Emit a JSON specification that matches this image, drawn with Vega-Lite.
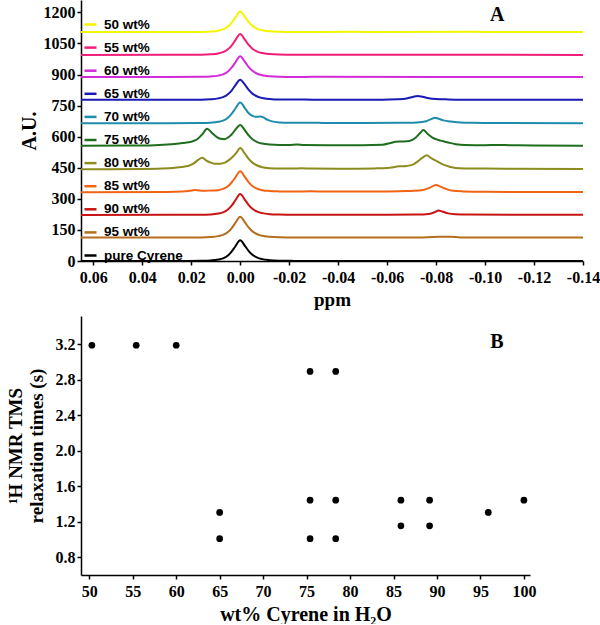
{
"$schema":"https://vega.github.io/schema/vega-lite/v6.json",
"background":"white",
"padding":{"left":6,"top":0,"right":0,"bottom":0},
"spacing":55,
"bounds":"flush",
"config":{"view":{"stroke":null},
 "axis":{"grid":false,"labelOverlap":false,"labelFlush":false,"domainColor":"black","domainWidth":1.5,"tickColor":"black","tickWidth":1.5,"tickSize":4,"labelFont":"Liberation Serif","labelFontWeight":"bold","labelFontSize":16,"labelColor":"black","titleFont":"Liberation Serif","titleFontWeight":"bold","titleColor":"black"}},
"datasets":{
"spectra":[
{"s":"pure Cyrene","ppm":0.065,"au":0},{"s":"pure Cyrene","ppm":0.03,"au":0},{"s":"pure Cyrene","ppm":0.022,"au":0.3},{"s":"pure Cyrene","ppm":0.016,"au":1},{"s":"pure Cyrene","ppm":0.012,"au":3},{"s":"pure Cyrene","ppm":0.009,"au":7},{"s":"pure Cyrene","ppm":0.007,"au":13},{"s":"pure Cyrene","ppm":0.005,"au":27},{"s":"pure Cyrene","ppm":0.0035,"au":45},{"s":"pure Cyrene","ppm":0.002,"au":70},{"s":"pure Cyrene","ppm":0,"au":100},{"s":"pure Cyrene","ppm":-0.002,"au":72},{"s":"pure Cyrene","ppm":-0.0035,"au":48},{"s":"pure Cyrene","ppm":-0.005,"au":30},{"s":"pure Cyrene","ppm":-0.007,"au":16},{"s":"pure Cyrene","ppm":-0.009,"au":9},{"s":"pure Cyrene","ppm":-0.012,"au":4},{"s":"pure Cyrene","ppm":-0.016,"au":1.5},{"s":"pure Cyrene","ppm":-0.022,"au":0.5},{"s":"pure Cyrene","ppm":-0.03,"au":0},{"s":"pure Cyrene","ppm":-0.14,"au":0},
{"s":"95 wt%","ppm":0.065,"au":113},{"s":"95 wt%","ppm":0.03,"au":113.5},{"s":"95 wt%","ppm":0.016,"au":114},{"s":"95 wt%","ppm":0.012,"au":116},{"s":"95 wt%","ppm":0.009,"au":120},{"s":"95 wt%","ppm":0.007,"au":126},{"s":"95 wt%","ppm":0.005,"au":140},{"s":"95 wt%","ppm":0.0035,"au":158},{"s":"95 wt%","ppm":0.002,"au":183},{"s":"95 wt%","ppm":0,"au":214},{"s":"95 wt%","ppm":-0.002,"au":185},{"s":"95 wt%","ppm":-0.0035,"au":161},{"s":"95 wt%","ppm":-0.005,"au":143},{"s":"95 wt%","ppm":-0.007,"au":129},{"s":"95 wt%","ppm":-0.009,"au":122},{"s":"95 wt%","ppm":-0.012,"au":117},{"s":"95 wt%","ppm":-0.016,"au":114.5},{"s":"95 wt%","ppm":-0.022,"au":113.5},{"s":"95 wt%","ppm":-0.03,"au":113.5},{"s":"95 wt%","ppm":-0.06,"au":113.5},{"s":"95 wt%","ppm":-0.075,"au":114},{"s":"95 wt%","ppm":-0.082,"au":117},{"s":"95 wt%","ppm":-0.086,"au":117},{"s":"95 wt%","ppm":-0.09,"au":114},{"s":"95 wt%","ppm":-0.14,"au":113.5},
{"s":"90 wt%","ppm":0.065,"au":222},{"s":"90 wt%","ppm":0.03,"au":223},{"s":"90 wt%","ppm":0.016,"au":223.5},{"s":"90 wt%","ppm":0.012,"au":225},{"s":"90 wt%","ppm":0.009,"au":229},{"s":"90 wt%","ppm":0.007,"au":235},{"s":"90 wt%","ppm":0.005,"au":249},{"s":"90 wt%","ppm":0.0035,"au":267},{"s":"90 wt%","ppm":0.002,"au":292},{"s":"90 wt%","ppm":0,"au":323},{"s":"90 wt%","ppm":-0.002,"au":294},{"s":"90 wt%","ppm":-0.0035,"au":270},{"s":"90 wt%","ppm":-0.005,"au":252},{"s":"90 wt%","ppm":-0.007,"au":238},{"s":"90 wt%","ppm":-0.009,"au":231},{"s":"90 wt%","ppm":-0.012,"au":226},{"s":"90 wt%","ppm":-0.016,"au":224},{"s":"90 wt%","ppm":-0.022,"au":223},{"s":"90 wt%","ppm":-0.03,"au":223},{"s":"90 wt%","ppm":-0.06,"au":223},{"s":"90 wt%","ppm":-0.072,"au":224},{"s":"90 wt%","ppm":-0.077,"au":227},{"s":"90 wt%","ppm":-0.0795,"au":236},{"s":"90 wt%","ppm":-0.081,"au":244},{"s":"90 wt%","ppm":-0.0825,"au":239},{"s":"90 wt%","ppm":-0.085,"au":230},{"s":"90 wt%","ppm":-0.088,"au":226},{"s":"90 wt%","ppm":-0.093,"au":224},{"s":"90 wt%","ppm":-0.14,"au":223},
{"s":"85 wt%","ppm":0.065,"au":332},{"s":"85 wt%","ppm":0.03,"au":333},{"s":"85 wt%","ppm":0.024,"au":335},{"s":"85 wt%","ppm":0.0205,"au":339},{"s":"85 wt%","ppm":0.0185,"au":343},{"s":"85 wt%","ppm":0.0165,"au":340},{"s":"85 wt%","ppm":0.0145,"au":339},{"s":"85 wt%","ppm":0.012,"au":340},{"s":"85 wt%","ppm":0.009,"au":342},{"s":"85 wt%","ppm":0.007,"au":348},{"s":"85 wt%","ppm":0.005,"au":361},{"s":"85 wt%","ppm":0.0035,"au":379},{"s":"85 wt%","ppm":0.002,"au":403},{"s":"85 wt%","ppm":0,"au":433},{"s":"85 wt%","ppm":-0.002,"au":404},{"s":"85 wt%","ppm":-0.0035,"au":380},{"s":"85 wt%","ppm":-0.005,"au":362},{"s":"85 wt%","ppm":-0.007,"au":349},{"s":"85 wt%","ppm":-0.009,"au":342},{"s":"85 wt%","ppm":-0.012,"au":338},{"s":"85 wt%","ppm":-0.016,"au":336},{"s":"85 wt%","ppm":-0.022,"au":335},{"s":"85 wt%","ppm":-0.029,"au":337},{"s":"85 wt%","ppm":-0.035,"au":335},{"s":"85 wt%","ppm":-0.05,"au":335},{"s":"85 wt%","ppm":-0.06,"au":336},{"s":"85 wt%","ppm":-0.068,"au":338},{"s":"85 wt%","ppm":-0.074,"au":341},{"s":"85 wt%","ppm":-0.0775,"au":354},{"s":"85 wt%","ppm":-0.0799,"au":367},{"s":"85 wt%","ppm":-0.082,"au":358},{"s":"85 wt%","ppm":-0.0845,"au":346},{"s":"85 wt%","ppm":-0.087,"au":339},{"s":"85 wt%","ppm":-0.091,"au":336},{"s":"85 wt%","ppm":-0.1,"au":334},{"s":"85 wt%","ppm":-0.14,"au":333},
{"s":"80 wt%","ppm":0.065,"au":443},{"s":"80 wt%","ppm":0.04,"au":444},{"s":"80 wt%","ppm":0.032,"au":446},{"s":"80 wt%","ppm":0.0275,"au":449},{"s":"80 wt%","ppm":0.024,"au":454},{"s":"80 wt%","ppm":0.021,"au":460},{"s":"80 wt%","ppm":0.019,"au":471},{"s":"80 wt%","ppm":0.0172,"au":488},{"s":"80 wt%","ppm":0.0155,"au":499},{"s":"80 wt%","ppm":0.0138,"au":485},{"s":"80 wt%","ppm":0.012,"au":475},{"s":"80 wt%","ppm":0.0105,"au":470},{"s":"80 wt%","ppm":0.009,"au":469},{"s":"80 wt%","ppm":0.0075,"au":471},{"s":"80 wt%","ppm":0.006,"au":476},{"s":"80 wt%","ppm":0.0045,"au":488},{"s":"80 wt%","ppm":0.003,"au":503},{"s":"80 wt%","ppm":0.0015,"au":523},{"s":"80 wt%","ppm":0,"au":545},{"s":"80 wt%","ppm":-0.002,"au":517},{"s":"80 wt%","ppm":-0.0035,"au":493},{"s":"80 wt%","ppm":-0.005,"au":475},{"s":"80 wt%","ppm":-0.007,"au":461},{"s":"80 wt%","ppm":-0.009,"au":453},{"s":"80 wt%","ppm":-0.012,"au":448},{"s":"80 wt%","ppm":-0.016,"au":446},{"s":"80 wt%","ppm":-0.021,"au":446},{"s":"80 wt%","ppm":-0.025,"au":448},{"s":"80 wt%","ppm":-0.029,"au":446},{"s":"80 wt%","ppm":-0.04,"au":445},{"s":"80 wt%","ppm":-0.055,"au":447},{"s":"80 wt%","ppm":-0.06,"au":449},{"s":"80 wt%","ppm":-0.065,"au":457},{"s":"80 wt%","ppm":-0.068,"au":459},{"s":"80 wt%","ppm":-0.0705,"au":465},{"s":"80 wt%","ppm":-0.0725,"au":481},{"s":"80 wt%","ppm":-0.0745,"au":499},{"s":"80 wt%","ppm":-0.0762,"au":510},{"s":"80 wt%","ppm":-0.078,"au":497},{"s":"80 wt%","ppm":-0.0805,"au":481},{"s":"80 wt%","ppm":-0.083,"au":465},{"s":"80 wt%","ppm":-0.0855,"au":455},{"s":"80 wt%","ppm":-0.088,"au":449},{"s":"80 wt%","ppm":-0.092,"au":447},{"s":"80 wt%","ppm":-0.1,"au":446},{"s":"80 wt%","ppm":-0.11,"au":445},{"s":"80 wt%","ppm":-0.14,"au":444},
{"s":"75 wt%","ppm":0.065,"au":556},{"s":"75 wt%","ppm":0.045,"au":557},{"s":"75 wt%","ppm":0.035,"au":559},{"s":"75 wt%","ppm":0.028,"au":564},{"s":"75 wt%","ppm":0.0235,"au":570},{"s":"75 wt%","ppm":0.02,"au":576},{"s":"75 wt%","ppm":0.0175,"au":588},{"s":"75 wt%","ppm":0.0155,"au":611},{"s":"75 wt%","ppm":0.0135,"au":639},{"s":"75 wt%","ppm":0.0115,"au":618},{"s":"75 wt%","ppm":0.0095,"au":598},{"s":"75 wt%","ppm":0.008,"au":590},{"s":"75 wt%","ppm":0.0065,"au":588},{"s":"75 wt%","ppm":0.005,"au":596},{"s":"75 wt%","ppm":0.0035,"au":611},{"s":"75 wt%","ppm":0.002,"au":633},{"s":"75 wt%","ppm":0,"au":656},{"s":"75 wt%","ppm":-0.002,"au":630},{"s":"75 wt%","ppm":-0.0035,"au":606},{"s":"75 wt%","ppm":-0.005,"au":588},{"s":"75 wt%","ppm":-0.007,"au":574},{"s":"75 wt%","ppm":-0.009,"au":567},{"s":"75 wt%","ppm":-0.012,"au":562},{"s":"75 wt%","ppm":-0.016,"au":560},{"s":"75 wt%","ppm":-0.02,"au":560},{"s":"75 wt%","ppm":-0.0232,"au":563},{"s":"75 wt%","ppm":-0.026,"au":560},{"s":"75 wt%","ppm":-0.035,"au":559},{"s":"75 wt%","ppm":-0.05,"au":559},{"s":"75 wt%","ppm":-0.058,"au":561},{"s":"75 wt%","ppm":-0.0615,"au":570},{"s":"75 wt%","ppm":-0.0635,"au":576},{"s":"75 wt%","ppm":-0.066,"au":577},{"s":"75 wt%","ppm":-0.069,"au":579},{"s":"75 wt%","ppm":-0.0715,"au":594},{"s":"75 wt%","ppm":-0.0735,"au":618},{"s":"75 wt%","ppm":-0.0748,"au":632},{"s":"75 wt%","ppm":-0.0765,"au":614},{"s":"75 wt%","ppm":-0.0785,"au":596},{"s":"75 wt%","ppm":-0.081,"au":584},{"s":"75 wt%","ppm":-0.083,"au":578},{"s":"75 wt%","ppm":-0.085,"au":572},{"s":"75 wt%","ppm":-0.088,"au":564},{"s":"75 wt%","ppm":-0.092,"au":560},{"s":"75 wt%","ppm":-0.1,"au":559},{"s":"75 wt%","ppm":-0.105,"au":560},{"s":"75 wt%","ppm":-0.11,"au":559},{"s":"75 wt%","ppm":-0.12,"au":557.5},{"s":"75 wt%","ppm":-0.14,"au":556.5},
{"s":"70 wt%","ppm":0.065,"au":665},{"s":"70 wt%","ppm":0.03,"au":665.5},{"s":"70 wt%","ppm":0.016,"au":666},{"s":"70 wt%","ppm":0.012,"au":668},{"s":"70 wt%","ppm":0.009,"au":672},{"s":"70 wt%","ppm":0.007,"au":678},{"s":"70 wt%","ppm":0.005,"au":692},{"s":"70 wt%","ppm":0.0035,"au":710},{"s":"70 wt%","ppm":0.002,"au":735},{"s":"70 wt%","ppm":0,"au":765},{"s":"70 wt%","ppm":-0.002,"au":737},{"s":"70 wt%","ppm":-0.0035,"au":713},{"s":"70 wt%","ppm":-0.005,"au":701},{"s":"70 wt%","ppm":-0.0065,"au":696},{"s":"70 wt%","ppm":-0.008,"au":697},{"s":"70 wt%","ppm":-0.0095,"au":693},{"s":"70 wt%","ppm":-0.011,"au":682},{"s":"70 wt%","ppm":-0.013,"au":674},{"s":"70 wt%","ppm":-0.016,"au":669},{"s":"70 wt%","ppm":-0.02,"au":667},{"s":"70 wt%","ppm":-0.029,"au":668},{"s":"70 wt%","ppm":-0.035,"au":666},{"s":"70 wt%","ppm":-0.05,"au":666},{"s":"70 wt%","ppm":-0.065,"au":667},{"s":"70 wt%","ppm":-0.072,"au":669},{"s":"70 wt%","ppm":-0.076,"au":675},{"s":"70 wt%","ppm":-0.078,"au":685},{"s":"70 wt%","ppm":-0.0795,"au":692},{"s":"70 wt%","ppm":-0.081,"au":687},{"s":"70 wt%","ppm":-0.083,"au":679},{"s":"70 wt%","ppm":-0.086,"au":673},{"s":"70 wt%","ppm":-0.09,"au":669},{"s":"70 wt%","ppm":-0.095,"au":667},{"s":"70 wt%","ppm":-0.105,"au":666},{"s":"70 wt%","ppm":-0.14,"au":665.5},
{"s":"65 wt%","ppm":0.065,"au":778},{"s":"65 wt%","ppm":0.03,"au":778.5},{"s":"65 wt%","ppm":0.016,"au":779},{"s":"65 wt%","ppm":0.012,"au":781},{"s":"65 wt%","ppm":0.009,"au":785},{"s":"65 wt%","ppm":0.007,"au":791},{"s":"65 wt%","ppm":0.005,"au":805},{"s":"65 wt%","ppm":0.0035,"au":823},{"s":"65 wt%","ppm":0.002,"au":848},{"s":"65 wt%","ppm":0,"au":875},{"s":"65 wt%","ppm":-0.002,"au":850},{"s":"65 wt%","ppm":-0.0035,"au":826},{"s":"65 wt%","ppm":-0.005,"au":808},{"s":"65 wt%","ppm":-0.007,"au":794},{"s":"65 wt%","ppm":-0.009,"au":787},{"s":"65 wt%","ppm":-0.012,"au":782},{"s":"65 wt%","ppm":-0.016,"au":779.5},{"s":"65 wt%","ppm":-0.0225,"au":780},{"s":"65 wt%","ppm":-0.03,"au":778.5},{"s":"65 wt%","ppm":-0.058,"au":779},{"s":"65 wt%","ppm":-0.064,"au":781},{"s":"65 wt%","ppm":-0.068,"au":785},{"s":"65 wt%","ppm":-0.0705,"au":792},{"s":"65 wt%","ppm":-0.0725,"au":797},{"s":"65 wt%","ppm":-0.0745,"au":793},{"s":"65 wt%","ppm":-0.077,"au":786},{"s":"65 wt%","ppm":-0.08,"au":782},{"s":"65 wt%","ppm":-0.085,"au":780},{"s":"65 wt%","ppm":-0.09,"au":779},{"s":"65 wt%","ppm":-0.14,"au":778.5},
{"s":"60 wt%","ppm":0.065,"au":888},{"s":"60 wt%","ppm":0.03,"au":888.5},{"s":"60 wt%","ppm":0.016,"au":889},{"s":"60 wt%","ppm":0.012,"au":891},{"s":"60 wt%","ppm":0.009,"au":895},{"s":"60 wt%","ppm":0.007,"au":901},{"s":"60 wt%","ppm":0.005,"au":915},{"s":"60 wt%","ppm":0.0035,"au":933},{"s":"60 wt%","ppm":0.002,"au":958},{"s":"60 wt%","ppm":0,"au":989},{"s":"60 wt%","ppm":-0.002,"au":960},{"s":"60 wt%","ppm":-0.0035,"au":936},{"s":"60 wt%","ppm":-0.005,"au":918},{"s":"60 wt%","ppm":-0.007,"au":904},{"s":"60 wt%","ppm":-0.009,"au":897},{"s":"60 wt%","ppm":-0.012,"au":892},{"s":"60 wt%","ppm":-0.016,"au":889.5},{"s":"60 wt%","ppm":-0.022,"au":888.5},{"s":"60 wt%","ppm":-0.03,"au":889},{"s":"60 wt%","ppm":-0.14,"au":888},
{"s":"55 wt%","ppm":0.065,"au":995},{"s":"55 wt%","ppm":0.03,"au":995.5},{"s":"55 wt%","ppm":0.016,"au":996},{"s":"55 wt%","ppm":0.012,"au":998},{"s":"55 wt%","ppm":0.009,"au":1002},{"s":"55 wt%","ppm":0.007,"au":1008},{"s":"55 wt%","ppm":0.005,"au":1022},{"s":"55 wt%","ppm":0.0035,"au":1040},{"s":"55 wt%","ppm":0.002,"au":1065},{"s":"55 wt%","ppm":0,"au":1096},{"s":"55 wt%","ppm":-0.002,"au":1067},{"s":"55 wt%","ppm":-0.0035,"au":1043},{"s":"55 wt%","ppm":-0.005,"au":1025},{"s":"55 wt%","ppm":-0.007,"au":1011},{"s":"55 wt%","ppm":-0.009,"au":1004},{"s":"55 wt%","ppm":-0.012,"au":999},{"s":"55 wt%","ppm":-0.016,"au":996.5},{"s":"55 wt%","ppm":-0.022,"au":995.5},{"s":"55 wt%","ppm":-0.03,"au":996},{"s":"55 wt%","ppm":-0.14,"au":995},
{"s":"50 wt%","ppm":0.065,"au":1105},{"s":"50 wt%","ppm":0.03,"au":1105.5},{"s":"50 wt%","ppm":0.016,"au":1106},{"s":"50 wt%","ppm":0.012,"au":1108},{"s":"50 wt%","ppm":0.009,"au":1112},{"s":"50 wt%","ppm":0.007,"au":1118},{"s":"50 wt%","ppm":0.005,"au":1132},{"s":"50 wt%","ppm":0.0035,"au":1150},{"s":"50 wt%","ppm":0.002,"au":1175},{"s":"50 wt%","ppm":0,"au":1205},{"s":"50 wt%","ppm":-0.002,"au":1177},{"s":"50 wt%","ppm":-0.0035,"au":1153},{"s":"50 wt%","ppm":-0.005,"au":1135},{"s":"50 wt%","ppm":-0.007,"au":1121},{"s":"50 wt%","ppm":-0.009,"au":1114},{"s":"50 wt%","ppm":-0.012,"au":1109},{"s":"50 wt%","ppm":-0.016,"au":1106.5},{"s":"50 wt%","ppm":-0.022,"au":1105.5},{"s":"50 wt%","ppm":-0.03,"au":1105.5},{"s":"50 wt%","ppm":-0.047,"au":1106.5},{"s":"50 wt%","ppm":-0.055,"au":1105.5},{"s":"50 wt%","ppm":-0.095,"au":1106.5},{"s":"50 wt%","ppm":-0.105,"au":1105.5},{"s":"50 wt%","ppm":-0.14,"au":1105}
],
"relax":[
{"wt":50.3,"t":3.19},{"wt":55.4,"t":3.19},{"wt":60.0,"t":3.19},{"wt":65.0,"t":1.305},{"wt":65.0,"t":1.01},{"wt":75.4,"t":2.895},{"wt":78.35,"t":2.895},{"wt":75.4,"t":1.444},{"wt":78.35,"t":1.444},{"wt":75.4,"t":1.01},{"wt":78.35,"t":1.01},{"wt":85.85,"t":1.444},{"wt":89.15,"t":1.444},{"wt":85.85,"t":1.154},{"wt":89.15,"t":1.154},{"wt":95.9,"t":1.305},{"wt":100,"t":1.444}
]},
"vconcat":[
{"width":502,"height":261,
 "layer":[
  {"data":{"name":"spectra"},
   "mark":{"type":"line","strokeWidth":2,"interpolate":"monotone"},
   "encoding":{
    "x":{"field":"ppm","type":"quantitative","scale":{"domain":[0.065,-0.14],"nice":false,"zero":false},
      "axis":{"values":[0.06,0.04,0.02,0,-0.02,-0.04,-0.06,-0.08,-0.1,-0.12,-0.14],"tickCount":20,"labelOverlap":false,"labelExpr":"replace(format(datum.value,'.2f'),'\u2212','-')","labelPadding":4,"title":"ppm","titleFontSize":19,"titlePadding":5}},
    "y":{"field":"au","type":"quantitative","scale":{"domain":[0,1260],"nice":false,"zero":false},
      "axis":{"values":[0,150,300,450,600,750,900,1050,1200],"tickCount":20,"labelOverlap":false,"labelExpr":"format(datum.value,'d')","title":"A.U.","titleFontSize":20,"titlePadding":4}},
    "color":{"field":"s","type":"nominal",
      "scale":{"domain":["50 wt%","55 wt%","60 wt%","65 wt%","70 wt%","75 wt%","80 wt%","85 wt%","90 wt%","95 wt%","pure Cyrene"],
               "range":["#f5f500","#f01e78","#d42bd8","#1a1ab4","#1e8caa","#1e6e1e","#8c8c1e","#f06414","#c81414","#b46e1e","#000000"]},
      "legend":{"orient":"none","legendX":2,"legendY":17,"title":null,"symbolType":"stroke","symbolSize":144,"symbolStrokeWidth":2.5,"labelFont":"Liberation Sans","labelFontWeight":"bold","labelFontSize":13.5,"labelColor":"black","labelOffset":6,"rowPadding":9.1,"padding":0}}
   }},
  {"data":{"values":[{}]},
   "mark":{"type":"text","text":"A","font":"Liberation Serif","fontWeight":"bold","fontSize":20,"color":"black","baseline":"middle","align":"center"},
   "encoding":{"x":{"datum":-0.105},"y":{"datum":1189}}}
 ]},
{"width":449,"height":259,
 "layer":[
  {"data":{"name":"relax"},
   "mark":{"type":"circle","size":45,"color":"black","opacity":1},
   "encoding":{
    "x":{"field":"wt","type":"quantitative","scale":{"domain":[49.05,100.7],"nice":false,"zero":false},
      "axis":{"values":[50,55,60,65,70,75,80,85,90,95,100],"tickCount":20,"labelOverlap":false,"labelPadding":4,"title":"wt% Cyrene in H\u2082O","titleFontSize":20,"titlePadding":5}},
    "y":{"field":"t","type":"quantitative","scale":{"domain":[0.6,3.52],"nice":false,"zero":false},
      "axis":{"values":[0.8,1.2,1.6,2.0,2.4,2.8,3.2],"tickCount":20,"labelOverlap":false,"format":".1f","title":["\u00b9H NMR TMS","relaxation times (s)"],"titleFontSize":19,"titleLineHeight":21,"titlePadding":9}}
   }},
  {"data":{"values":[{}]},
   "mark":{"type":"text","text":"B","font":"Liberation Serif","fontWeight":"bold","fontSize":20,"color":"black","baseline":"middle","align":"center"},
   "encoding":{"x":{"datum":96.9},"y":{"datum":3.23}}}
 ]}
]
}
